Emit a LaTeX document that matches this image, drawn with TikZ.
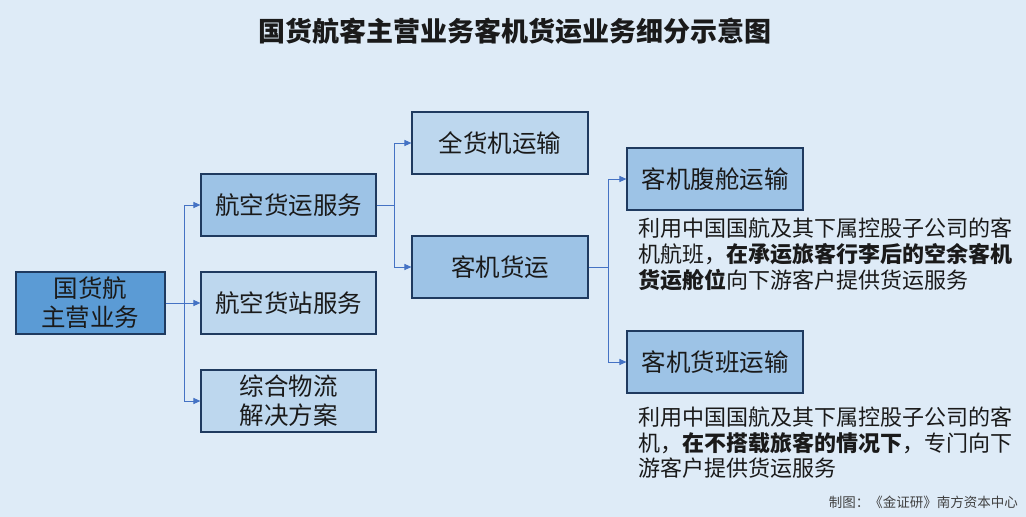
\documentclass[tikz,border=0pt]{standalone}
\usepackage{fontspec}
\setmainfont{Noto Sans CJK SC}
\newfontfamily\cjk{Noto Sans CJK SC}
\usetikzlibrary{arrows.meta}
\definecolor{bg}{HTML}{DEEBF7}
\definecolor{dark}{HTML}{5B9BD5}
\definecolor{mid}{HTML}{9DC3E6}
\definecolor{light}{HTML}{BDD7EE}
\definecolor{edge}{HTML}{1F3A5F}
\definecolor{conn}{HTML}{4472C4}
\definecolor{txt}{HTML}{1A1A1A}
\tikzset{
  boxnode/.style={draw=edge, line width=1.1pt, minimum height=62pt, inner sep=0pt,
    align=center, text=txt, font=\cjk\fontsize{24.5}{29}\selectfont},
  connline/.style={draw=conn, line width=1pt, -{Triangle[length=7pt,width=6pt]}},
  desc/.style={anchor=base west, inner sep=0pt, text=txt, font=\cjk\fontsize{22}{26}\selectfont},
}
\begin{document}
\begin{tikzpicture}[x=1pt,y=-1pt]
\fill[bg] (0,0) rectangle (1026,517);
\useasboundingbox (0,0) rectangle (1026,517);
\node[font=\cjk\bfseries\fontsize{27}{32}\selectfont, text=txt] (title) at (515,31) {国货航客主营业务客机货运业务细分示意图};

\node[boxnode, fill=dark, minimum width=149pt] (root) at (90.5,303) {国货航\\主营业务};
\node[boxnode, fill=mid, minimum width=175pt] (a1) at (288.5,205) {航空货运服务};
\node[boxnode, fill=light, minimum width=175pt] (a2) at (288.5,303) {航空货站服务};
\node[boxnode, fill=light, minimum width=175pt] (a3) at (288.5,401) {综合物流\\解决方案};
\node[boxnode, fill=light, minimum width=176pt] (b1) at (500,143) {全货机运输};
\node[boxnode, fill=mid, minimum width=176pt] (b2) at (500,267) {客机货运};
\node[boxnode, fill=mid, minimum width=176pt] (c1) at (715,179) {客机腹舱运输};
\node[boxnode, fill=mid, minimum width=176pt] (c2) at (715,362) {客机货班运输};

\coordinate (j1) at (184,303);
\coordinate (j2) at (394,205);
\coordinate (j3) at (608,267);
\draw[connline] (root.east) -- (j1) |- (a1.west);
\draw[connline] (root.east) -- (a2.west);
\draw[connline] (j1) |- (a3.west);
\draw[connline] (a1.east) -- (j2) |- (b1.west);
\draw[connline] (j2) |- (b2.west);
\draw[connline] (b2.east) -- (j3) |- (c1.west);
\draw[connline] (j3) |- (c2.west);

\node[desc] (t1a) at (638,236) {利用中国国航及其下属控股子公司的客};
\node[desc] (t1b) at (638,262) {机航班，\textbf{在承运旅客行李后的空余客机}};
\node[desc] (t1c) at (638,288) {\textbf{货运舱位}向下游客户提供货运服务};

\node[desc] (t2a) at (638,425) {利用中国国航及其下属控股子公司的客};
\node[desc] (t2b) at (638,451) {机，\textbf{在不搭载旅客的情况下}，专门向下};
\node[desc] (t2c) at (638,476) {游客户提供货运服务};

\node[anchor=base east, inner sep=0pt, text=black!75, font=\cjk\fontsize{13.5}{16}\selectfont] (foot) at (1018,507) {制图：《金证研》南方资本中心};
\end{tikzpicture}
\end{document}
